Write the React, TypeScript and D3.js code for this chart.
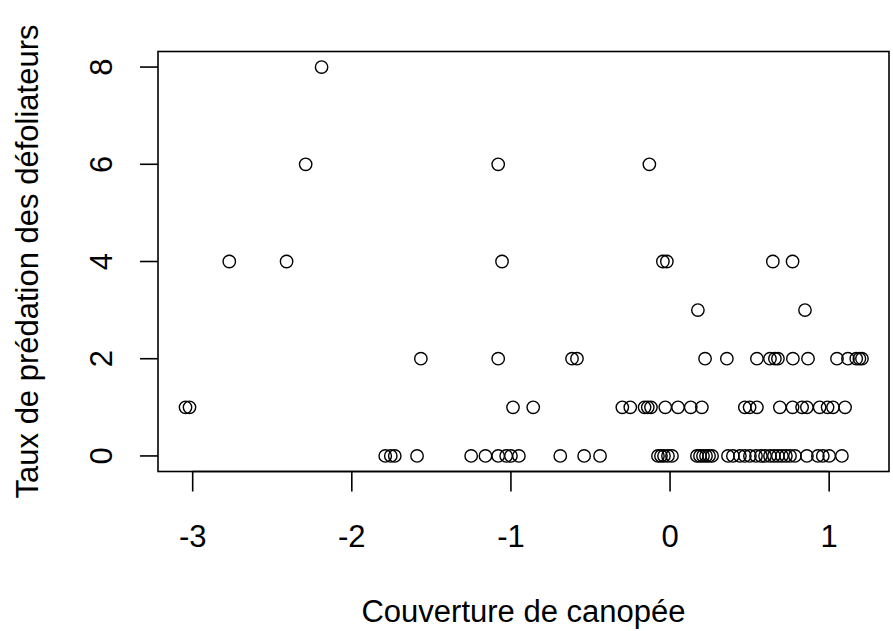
import React from "react";
import * as d3 from "d3";

// Canopy cover values (x) grouped by predation rate (y)
const canopyAt0 = [-1.79, -1.755, -1.73, -1.59, -1.25, -1.16, -1.08, -1.03, -1.0, -0.95, -0.69, -0.54, -0.44,
  -0.076, -0.057, -0.038, -0.013, 0.012, 0.169, 0.188, 0.207, 0.226, 0.245, 0.264,
  0.364, 0.395, 0.439, 0.47, 0.502, 0.54, 0.571, 0.597, 0.628, 0.653, 0.678, 0.703, 0.728, 0.754, 0.785,
  0.86, 0.929, 0.96, 1.0, 1.08];
const canopyAt1 = [-3.045, -3.02, -0.987, -0.86, -0.3, -0.25, -0.16, -0.14, -0.12, -0.03, 0.05, 0.13, 0.2,
  0.47, 0.5, 0.546, 0.69, 0.77, 0.83, 0.86, 0.94, 0.99, 1.024, 1.1];
const canopyAt2 = [-1.566, -1.08, -0.616, -0.585, 0.22, 0.357, 0.546, 0.628, 0.659, 0.678, 0.772, 0.867,
  1.049, 1.118, 1.17, 1.19, 1.206];
const canopyAt3 = [0.175, 0.848];
const canopyAt4 = [-2.77, -2.41, -1.056, -0.045, -0.02, 0.646, 0.77];
const canopyAt6 = [-2.29, -1.08, -0.13];
const canopyAt8 = [-2.19];

const levels = [0, 1, 2, 3, 4, 6, 8];
const groups = [canopyAt0, canopyAt1, canopyAt2, canopyAt3, canopyAt4, canopyAt6, canopyAt8];

const xTicks = [-3, -2, -1, 0, 1];
const yTicks = [0, 2, 4, 6, 8];
const xTitle = "Couverture de canopée";
const yTitle = "Taux de prédation des défoliateurs";

const W = 893;
const H = 631;
const left = 158, right = 889, top = 51.5, bottom = 471.5;
const FONT = "'Liberation Sans', Arial, sans-serif";
const FS = 31;

export default function App() {
  const points = groups.flatMap((g, i) => g.map((x) => ({ x, y: levels[i] })));
  const xs = points.map((p) => p.x);
  const [xmin, xmax] = d3.extent(xs) as [number, number];
  const xr = xmax - xmin;
  const x = d3.scaleLinear().domain([-3.218, 1.376]).range([left, right]);
  const y = d3.scaleLinear().domain([-0.32, 8.32]).range([bottom, top]);
  void xr;

  return (
    <div style={{ position: "absolute", left: 0, top: 0 }}>
      <svg width={W} height={H} style={{ display: "block", background: "#fff" }}>
        <rect x={left} y={top} width={right - left} height={bottom - top} fill="none" stroke="#000" strokeWidth={1.6} />
        {points.map((p, i) => (
          <circle key={i} cx={x(p.x)} cy={y(p.y)} r={6.2} fill="none" stroke="#000" strokeWidth={1.4} />
        ))}
        {/* x axis */}
        <line x1={x(xTicks[0])} x2={x(xTicks[xTicks.length - 1])} y1={bottom} y2={bottom} stroke="#000" strokeWidth={1.6} />
        {xTicks.map((t) => (
          <g key={t}>
            <line x1={x(t)} x2={x(t)} y1={bottom} y2={bottom + 20} stroke="#000" strokeWidth={1.6} />
            <text x={x(t)} y={547} textAnchor="middle" fontFamily={FONT} fontSize={FS} fill="#000">{t}</text>
          </g>
        ))}
        {/* y axis */}
        {yTicks.map((t) => (
          <g key={t}>
            <line x1={left - 18} x2={left} y1={y(t)} y2={y(t)} stroke="#000" strokeWidth={1.6} />
            <text transform={`translate(112,${y(t)}) rotate(-90)`} textAnchor="middle" fontFamily={FONT} fontSize={FS} fill="#000">{t}</text>
          </g>
        ))}
        <text x={(left + right) / 2} y={622} textAnchor="middle" fontFamily={FONT} fontSize={FS} fill="#000">{xTitle}</text>
        <text transform={`translate(38,${(top + bottom) / 2}) rotate(-90)`} textAnchor="middle" fontFamily={FONT} fontSize={FS} fill="#000">{yTitle}</text>
      </svg>
    </div>
  );
}
